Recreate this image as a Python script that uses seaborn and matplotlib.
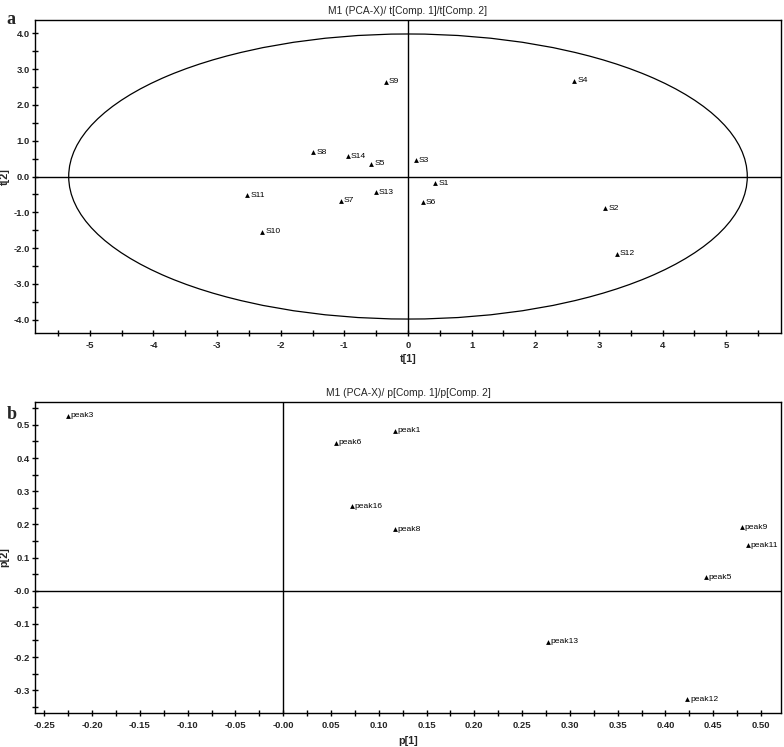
import matplotlib
matplotlib.use("Agg")
import matplotlib.pyplot as plt
import seaborn as sns
import numpy as np
import pandas as pd
from matplotlib.patches import Ellipse

# ---- data: scores (panel a) ----
score_names = ["S1", "S2", "S3", "S4", "S5", "S6", "S7", "S8", "S9", "S10", "S11", "S12", "S13", "S14"]
t1 = [0.43, 3.10, 0.12, 2.61, -0.58, 0.23, -1.06, -1.49, -0.35, -2.29, -2.53, 3.28, -0.51, -0.95]
t2 = [-0.19, -0.89, 0.45, 2.67, 0.36, -0.72, -0.67, 0.68, 2.65, -1.54, -0.52, -2.16, -0.44, 0.56]

# ---- data: loadings (panel b) ----
peak_names = ["peak3", "peak6", "peak1", "peak16", "peak8", "peak9", "peak11", "peak5", "peak13", "peak12"]
p1 = [-0.225, 0.0555, 0.117, 0.072, 0.117, 0.480, 0.486, 0.442, 0.277, 0.423]
p2 = [0.528, 0.446, 0.482, 0.255, 0.185, 0.192, 0.137, 0.040, -0.154, -0.327]

# Hotelling T2 ellipse semi-axes
ell_a, ell_b = 5.33, 3.98

sns.set_theme(style="white")
plt.rcParams['font.family'] = ['Liberation Sans', 'DejaVu Sans']

fig = plt.figure(figsize=(7.84, 7.47), dpi=100)
axA = fig.add_axes([0.0446, 0.5542, 0.9516, 0.4190])
axB = fig.add_axes([0.0443, 0.0459, 0.9519, 0.4159])

dfA = pd.DataFrame({"t1": t1, "t2": t2, "name": score_names})
dfB = pd.DataFrame({"p1": p1, "p2": p2, "name": peak_names})


def style_axes(ax):
    for s in ax.spines.values():
        s.set_color("black")
        s.set_linewidth(1.0)
        s.set_visible(True)
    ax.tick_params(axis="x", which="both", direction="inout", length=4, width=1,
                   color="black", labelsize=6.8, pad=4, bottom=True)
    ax.tick_params(axis="y", which="both", direction="inout", length=4, width=1,
                   color="black", labelsize=6.8, pad=1.5, left=True)
    for lab in ax.get_xticklabels() + ax.get_yticklabels():
        lab.set_fontweight("bold")
    ax.set_facecolor("white")


# ---- panel a ----
sns.scatterplot(data=dfA, x="t1", y="t2", marker="^", color="black", s=12,
                edgecolor="black", linewidth=0, ax=axA, zorder=3)
for x, y, n in zip(t1, t2, score_names):
    axA.text(x + 0.05, y, n, fontsize=6.1, va="center", ha="left", color="black")
axA.add_patch(Ellipse((0, 0), 2 * ell_a, 2 * ell_b, fill=False, edgecolor="black", linewidth=0.9))
axA.axhline(0, color="black", linewidth=1)
axA.axvline(0, color="black", linewidth=1)
axA.set_xlim(-5.86, 5.86)
axA.set_ylim(-4.37, 4.37)
xtA = np.arange(-5.5, 5.51, 0.5)
axA.set_xticks(xtA)
axA.set_xticklabels([("%d" % v) if float(v).is_integer() else "" for v in xtA])
ytA = np.arange(-4.0, 4.01, 0.5)
axA.set_yticks(ytA)
axA.set_yticklabels([("%.1f" % v) if float(v).is_integer() else "" for v in ytA])
axA.set_xlabel("t[1]", fontsize=7.8, fontweight="bold")
axA.set_ylabel("t[2]", fontsize=7.8, fontweight="bold")
axA.xaxis.set_label_coords(0.5, -0.067)
axA.yaxis.set_label_coords(-0.034, 0.5)
axA.set_title("M1 (PCA-X)/ t[Comp. 1]/t[Comp. 2]", fontsize=7.4, pad=4)
style_axes(axA)

# ---- panel b ----
sns.scatterplot(data=dfB, x="p1", y="p2", marker="^", color="black", s=12,
                edgecolor="black", linewidth=0, ax=axB, zorder=3)
for x, y, n in zip(p1, p2, peak_names):
    axB.text(x + 0.0028, y, n, fontsize=6.1, va="center", ha="left", color="black")
axB.axhline(0, color="black", linewidth=1)
axB.axvline(0, color="black", linewidth=1)
axB.set_xlim(-0.260, 0.521)
axB.set_ylim(-0.368, 0.569)
xt = np.round(np.arange(-0.25, 0.5001, 0.025), 3)
axB.set_xticks(xt)
xl = []
for v in xt:
    if abs(round(v / 0.05) * 0.05 - v) < 1e-6:
        xl.append("-0.00" if abs(v) < 1e-9 else "%.2f" % v)
    else:
        xl.append("")
axB.set_xticklabels(xl)
yt = np.round(np.arange(-0.35, 0.5501, 0.05), 3)
axB.set_yticks(yt)
yl = []
for v in yt:
    if abs(round(v / 0.1) * 0.1 - v) < 1e-6:
        yl.append("-0.0" if abs(v) < 1e-9 else "%.1f" % v)
    else:
        yl.append("")
axB.set_yticklabels(yl)
axB.set_xlabel("p[1]", fontsize=7.8, fontweight="bold")
axB.set_ylabel("p[2]", fontsize=7.8, fontweight="bold")
axB.xaxis.set_label_coords(0.5, -0.074)
axB.yaxis.set_label_coords(-0.034, 0.5)
axB.set_title("M1 (PCA-X)/ p[Comp. 1]/p[Comp. 2]", fontsize=7.4, pad=4)
style_axes(axB)

fig.text(0.008, 0.985, "a", fontsize=13, fontweight="bold", family="Liberation Serif", va="top")
fig.text(0.008, 0.457, "b", fontsize=13, fontweight="bold", family="Liberation Serif", va="top")

fig.savefig("out.png", dpi=100, facecolor="white")
